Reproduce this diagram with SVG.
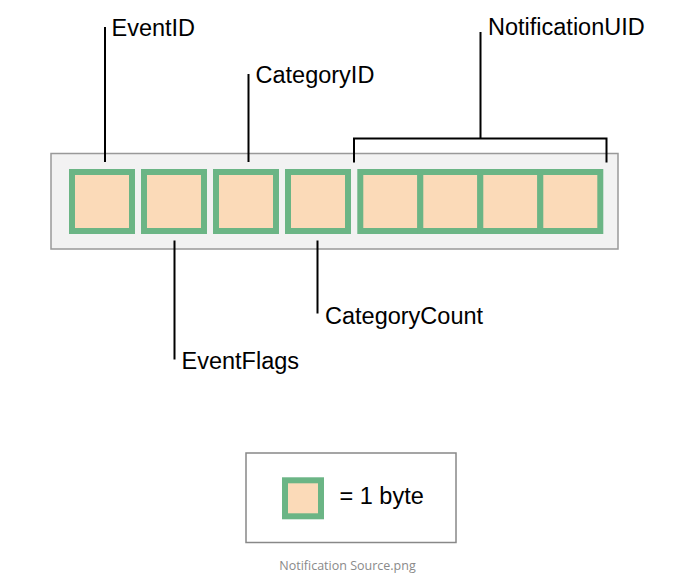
<svg xmlns="http://www.w3.org/2000/svg" width="700" height="579" viewBox="0 0 700 579">
<style>
.byte{fill:#fbdab8;stroke:#6bb585;stroke-width:6}
.lbl{font-family:"Liberation Sans",Arial,sans-serif;font-size:23.5px;fill:#000}
.ln{stroke:#000;stroke-width:2;fill:none}
</style>
<rect width="700" height="579" fill="#fff"/>
<g id="container">
<rect x="51" y="153.5" width="567" height="95.5" fill="#f2f2f2" stroke="#999" stroke-width="1.5"/>
</g>
<g id="byte-eventid"><rect class="byte" x="72" y="172" width="60" height="59"/></g>
<g id="byte-eventflags"><rect class="byte" x="144" y="172" width="60" height="59"/></g>
<g id="byte-categoryid"><rect class="byte" x="216" y="172" width="60" height="59"/></g>
<g id="byte-categorycount"><rect class="byte" x="288" y="172" width="60" height="59"/></g>
<g id="bytes-notificationuid">
<rect class="byte" x="360.3" y="172" width="60" height="59"/>
<rect class="byte" x="420.3" y="172" width="60" height="59"/>
<rect class="byte" x="480.3" y="172" width="60" height="59"/>
<rect class="byte" x="540.3" y="172" width="60" height="59"/>
</g>
<g id="connectors">
<path class="ln" d="M105 27 V162"/>
<path class="ln" d="M248.5 74 V162"/>
<path class="ln" d="M480.5 32 V138.5 M354 162.5 V138.5 H606.5 V162.5"/>
<path class="ln" d="M174.5 240.5 V359.5"/>
<path class="ln" d="M317.5 240.5 V313.5"/>
</g>
<g id="label-eventid"><text class="lbl" x="111.5" y="36">EventID</text></g>
<g id="label-categoryid"><text class="lbl" x="255.5" y="82.5">CategoryID</text></g>
<g id="label-notificationuid"><text class="lbl" x="488" y="35">NotificationUID</text></g>
<g id="label-eventflags"><text class="lbl" x="181.5" y="369">EventFlags</text></g>
<g id="label-categorycount"><text class="lbl" x="325" y="323.5">CategoryCount</text></g>
<g id="legend">
<rect x="246" y="453" width="210" height="89.5" fill="#fff" stroke="#888" stroke-width="1.5"/>
<rect class="byte" x="285" y="480.3" width="36" height="36"/>
<text class="lbl" x="339.5" y="504">= 1 byte</text>
</g>
<g id="caption">
<text x="347.5" y="570" text-anchor="middle" font-family="'Open Sans',sans-serif" font-size="12.5" fill="#8a8a8a">Notification Source.png</text>
</g>
</svg>
